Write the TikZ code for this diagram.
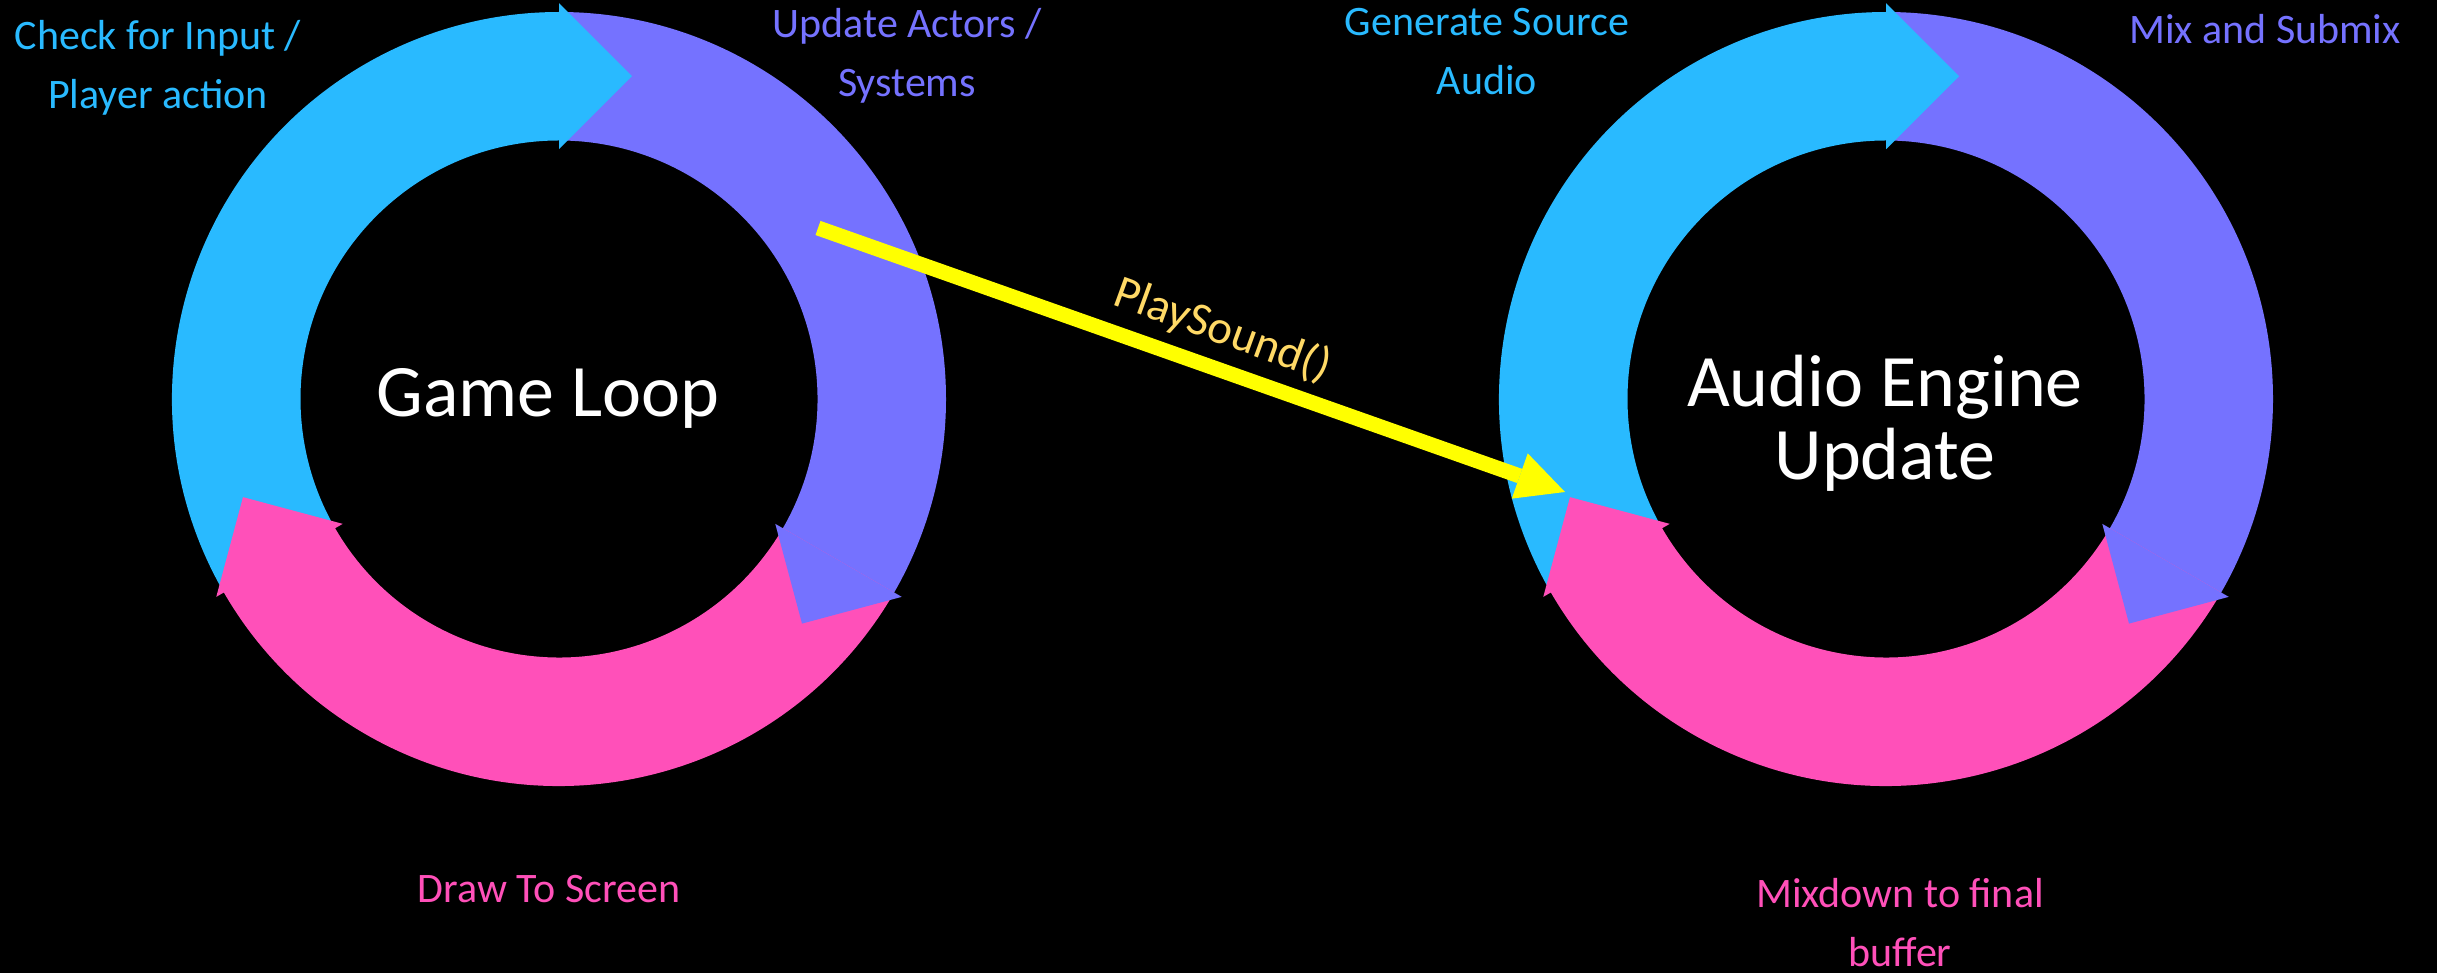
\documentclass[tikz,border=0pt]{standalone}
\usepackage{fontspec}
\setmainfont{Carlito}
\usetikzlibrary{arrows.meta,calc}

\definecolor{cyc}{RGB}{41,186,255}
\definecolor{pur}{RGB}{117,114,255}
\definecolor{pnk}{RGB}{255,80,185}
\definecolor{ylw}{RGB}{255,255,0}
\definecolor{gold}{RGB}{255,217,102}

% annular sector of a cycle ring: centre, start angle, end angle, colour
\newcommand\ringbody[4]{%
  \fill[#4] ($(#1)+(#2:387pt)$) arc[start angle=#2, end angle=#3-0.5, radius=387pt]
    -- ($(#1)+(#3-0.5:258.5pt)$) arc[start angle=#3-0.5, end angle=#2, radius=258.5pt] -- cycle;}
% triangular head at the end of a ring segment: centre, end angle, colour
\newcommand\ringhead[3]{%
  \fill[#3] ($(#1)+(#2:249.75pt)$) -- ($(#1)+(#2:322.75pt)+(#2-90:73pt)$)
    -- ($(#1)+(#2:395.75pt)$) -- cycle;}

\tikzset{
  lbl/.style={inner sep=0pt, anchor=base, font=\fontsize{42}{59}\selectfont},
  title/.style={inner sep=0pt, anchor=base, text=white, font=\fontsize{74}{70}\selectfont},
  callarrow/.style={draw=ylw, line width=15pt,
    -{Triangle[width=48pt,length=48pt,line width=0pt,fill=ylw]}},
  calllabel/.style={inner sep=0pt, anchor=base, text=gold, rotate=-20,
    font=\fontsize{47}{54}\selectfont},
}

\begin{document}
\begin{tikzpicture}[x=1pt,y=1pt]
\useasboundingbox (0,0) rectangle (2437,973);
\fill[black] (0,0) rectangle (2437,973);

\coordinate (gl) at (559,574);
\coordinate (ae) at (1886,574);

% ring bodies first, then the heads so each head lies over the next segment
\foreach \c in {gl,ae} {
  \ringbody{\c}{210}{90}{cyc}
  \ringbody{\c}{90}{-30}{pur}
  \ringbody{\c}{-30}{-150}{pnk}
}
\foreach \c in {gl,ae} {
  \ringhead{\c}{90}{cyc}
  \ringhead{\c}{-30}{pur}
  \ringhead{\c}{-150}{pnk}
}

% call from the game loop into the audio engine
\coordinate (psfrom) at (818,745);
\coordinate (psto) at (1565,481);
\draw[callarrow] (psfrom) -- (psto);
\node[calllabel] (playsound) at (1218,630) {PlaySound()};

% centre titles
\node[title] (gameloop) at (548,556) {Game Loop};
\node[title] (audioeng) at (1885,566) {\begin{tabular}[t]{@{}c@{}}Audio Engine\\Update\end{tabular}};

% stage labels
\node[lbl, text=cyc] (chk) at (158,923) {\begin{tabular}[t]{@{}c@{}}Check for Input /\\Player action\end{tabular}};
\node[lbl, text=pur] (upd) at (907,935) {\begin{tabular}[t]{@{}c@{}}Update Actors /\\Systems\end{tabular}};
\node[lbl, text=pnk] (drw) at (549,70) {Draw To Screen};
\node[lbl, text=cyc] (gen) at (1487,937) {\begin{tabular}[t]{@{}c@{}}Generate Source\\Audio\end{tabular}};
\node[lbl, text=pur] (mix) at (2265,929) {Mix and Submix};
\node[lbl, text=pnk] (mxd) at (1900,65) {\begin{tabular}[t]{@{}c@{}}Mixdown to final\\buffer\end{tabular}};
\end{tikzpicture}
\end{document}
